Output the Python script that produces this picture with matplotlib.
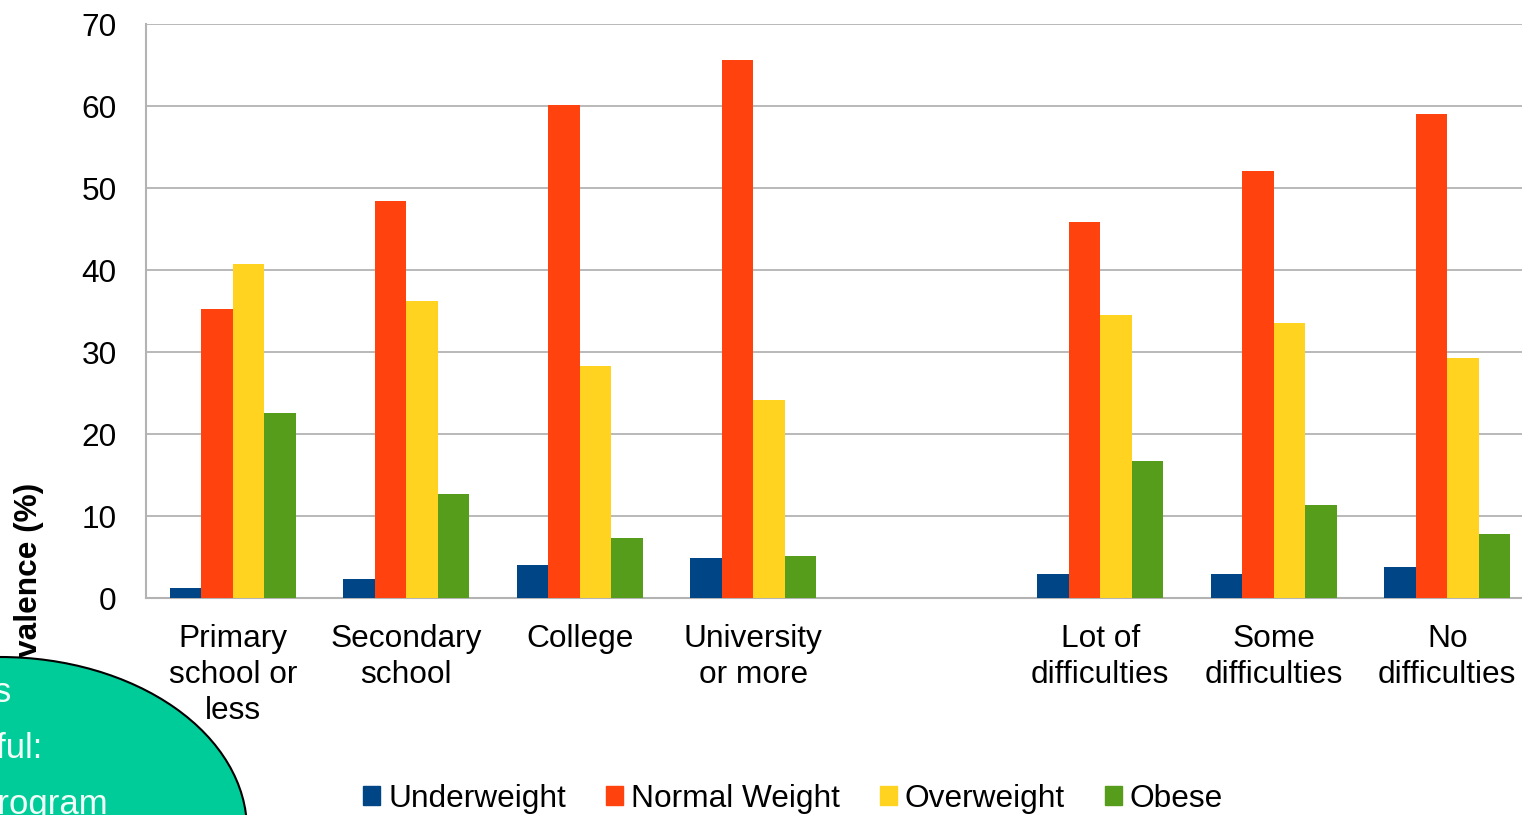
import numpy as np
import matplotlib
matplotlib.use("Agg")
import matplotlib.pyplot as plt
from matplotlib.patches import Ellipse, Rectangle

plt.rcParams['font.family'] = ['Liberation Sans', 'DejaVu Sans']

# Data, blank slot separates the two groups
categories = ["Primary\nschool or\nless", "Secondary\nschool", "College", "University\nor more",
              "", "Lot of\ndifficulties", "Some\ndifficulties", "No\ndifficulties"]
underweight = [1.2, 2.3, 4.0, 4.9, np.nan, 2.9, 2.9, 3.8]
normal_weight = [35.2, 48.4, 60.1, 65.6, np.nan, 45.8, 52.1, 59.0]
overweight = [40.7, 36.2, 28.3, 24.1, np.nan, 34.5, 33.5, 29.3]
obese = [22.6, 12.7, 7.3, 5.1, np.nan, 16.7, 11.4, 7.8]

series = ["Underweight", "Normal Weight", "Overweight", "Obese"]
colors = ["#004586", "#ff420e", "#ffd320", "#579d1c"]

W, H = 1522, 815
fs = 22.8

fig = plt.figure(figsize=(W / 100, H / 100), dpi=100)
# plot area runs a bit past the right edge, like the cropped original
ax = fig.add_axes([146 / W, 1 - 598 / H, (1534 - 146) / W, (598 - 24) / H])

x = np.arange(len(categories))
bw = 0.1816
for i, (vals, c) in enumerate(zip([underweight, normal_weight, overweight, obese], colors)):
    ax.bar(x + (i - 1.5) * bw, vals, bw, color=c, zorder=3)

ax.set_xlim(-0.5, len(categories) - 0.5)
ax.set_ylim(0, 70)
ax.set_yticks(range(0, 71, 10))
ax.set_xticks(x)
ax.set_xticklabels(categories, fontsize=fs, linespacing=1.27)
ax.tick_params(axis='y', length=0, pad=21, labelsize=fs)
ax.tick_params(axis='x', length=0, pad=18.5)
ax.grid(axis='y', color='#b3b3b3', linewidth=1.3, zorder=0)
for s in ['top', 'right']:
    ax.spines[s].set_visible(False)
for s in ['left', 'bottom']:
    ax.spines[s].set_color('#b3b3b3')
    ax.spines[s].set_linewidth(1.5)

fig.text(29 / W, 1 - 595 / H, "Prevalence (%)", rotation=90, fontsize=fs,
         fontweight='bold', ha='center', va='center', zorder=1)

handles = [Rectangle((0, 0), 1, 1, color=c) for c in colors]
fig.legend(handles, series, loc='center', bbox_to_anchor=(793 / W, 1 - 799 / H),
           ncol=4, frameon=False, fontsize=fs, handlelength=0.54, handleheight=0.54,
           handletextpad=0.25, columnspacing=1.26, borderpad=0)

# callout bubble overlapping the bottom-left corner
bubble = Ellipse((0, 1 - 830 / H), 2 * 247 / W, 2 * 173 / H, transform=fig.transFigure,
                 facecolor='#00cc99', edgecolor='black', linewidth=1.5, zorder=5)
fig.add_artist(bubble)
for txt, xe, yb in [("This is", 11, 702), ("useful:", 43, 758), ("program", 108, 814)]:
    fig.text(xe / W, 1 - yb / H, txt, color='#f2fff9', fontsize=25, ha='right',
             va='baseline', zorder=6)

fig.savefig("out.png", dpi=100)
